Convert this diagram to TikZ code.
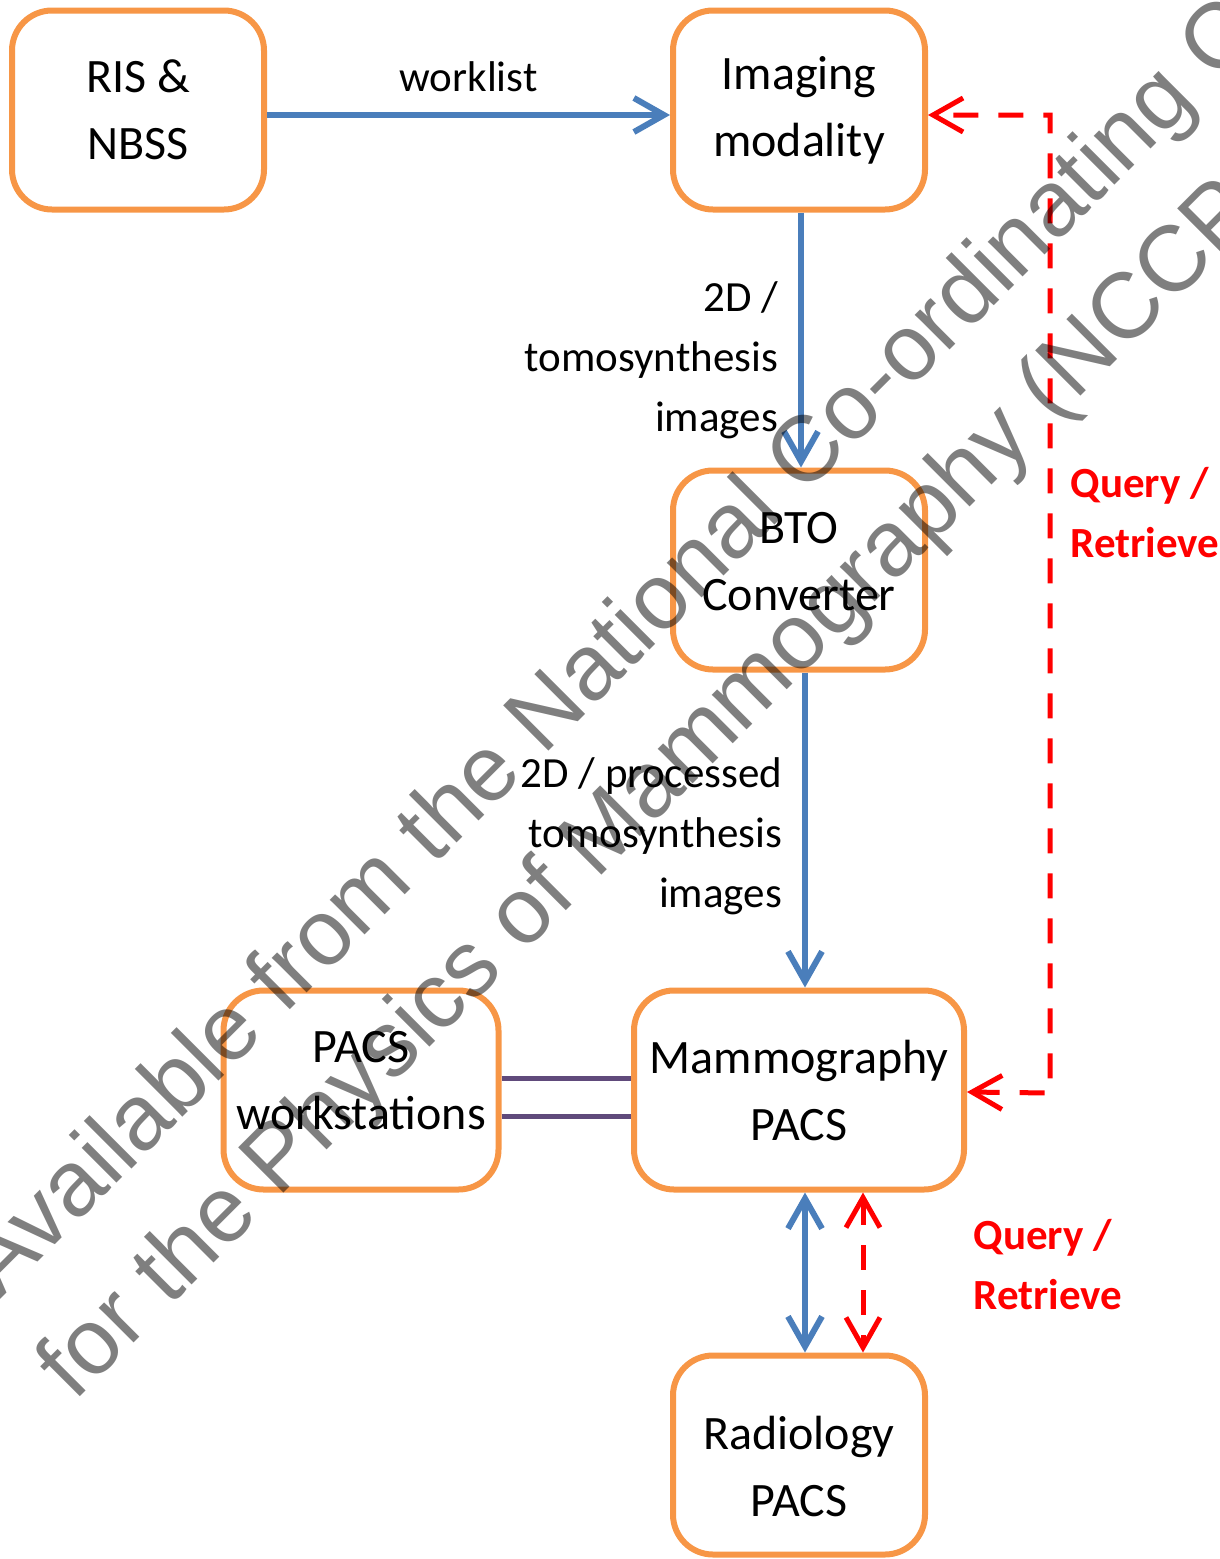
\documentclass[tikz,border=0pt]{standalone}
\usepackage{fontspec}
\setmainfont{Carlito}
\newfontfamily\stampfont{Liberation Sans}
\usetikzlibrary{arrows.meta}
\definecolor{boxorange}{RGB}{247,150,70}
\definecolor{flowblue}{RGB}{74,126,187}
\definecolor{linkpurple}{RGB}{96,74,123}
\definecolor{qrred}{RGB}{255,0,0}

\tikzset{
  barb/.tip={Straight Barb[length=15pt,width=17pt]},
  box/.style={draw=boxorange, line width=3pt, rounded corners=20pt, fill=white,
    minimum width=126pt, minimum height=99.5pt, align=center,
    font=\fontsize{24}{33.5}\selectfont},
  flow/.style={draw=flowblue, line width=3pt},
  qr/.style={draw=qrred, line width=2.5pt, dash pattern=on 12.5pt off 10pt},
  flowtext/.style={align=right, inner sep=0pt, font=\fontsize{21.5}{30}\selectfont},
  qrtext/.style={align=left, inner sep=0pt, text=qrred, font=\bfseries\fontsize{21.5}{30}\selectfont},
  stamp/.style={rotate=45, inner sep=0pt, text=black, text opacity=0.5,
    font=\stampfont\fontsize{46.5}{50}\selectfont}
}

\begin{document}
\begin{tikzpicture}[x=0.5pt,y=-0.5pt]
\useasboundingbox (0,0) rectangle (1220,1559);

\node[box] (ris) at (138,110) {RIS \&\\NBSS};
\node[box,right of=ris,node distance=330.5pt] (modality) {Imaging\\modality};
\node[box,below of=modality,node distance=230pt,text depth=9pt] (bto) {BTO\\Converter};
\node[box,below of=bto,node distance=260pt,minimum width=165pt] (mpacs) {Mammography\\PACS};
\node[box,left of=mpacs,node distance=219pt,minimum width=137.5pt,text depth=10pt] (ws) {PACS\\workstations};
\node[box,below of=mpacs,node distance=182.5pt,text height=62pt] (rpacs) {Radiology\\PACS};
\coordinate (qrline) at (1050,1093);

\draw[flow,-barb] ([yshift=-2.5pt]ris.east) to node[above=10pt,inner sep=0pt,font=\fontsize{21.5}{30}\selectfont] {worklist} ([yshift=-2.5pt]modality.west);
\draw[flow,-barb] ([xshift=1pt]modality.south) to node[flowtext,left=10pt,pos=0.58] {2D /\\tomosynthesis\\images} ([xshift=1pt]bto.north);
\draw[flow,-barb] ([xshift=3pt]bto.south) to node[flowtext,left=10pt,pos=0.52] {2D / processed\\tomosynthesis\\images} ([xshift=3pt]mpacs.north);
\draw[flow,barb-barb] ([xshift=3pt]mpacs.south) -- ([xshift=3pt]rpacs.north);

\draw[qr,barb-barb] ([yshift=-1pt]mpacs.east) -- (qrline)
  -- node[qrtext,right=9pt,pos=0.593] {Query /\\Retrieve} (qrline |- 0,115) -- ([yshift=-2.5pt]modality.east);
\draw[qr,barb-barb] ([xshift=32pt]mpacs.south) to node[qrtext,right=54pt,pos=0.45] {Query /\\Retrieve} ([xshift=32pt]rpacs.north);

\draw[draw=linkpurple,line width=2.5pt] ([yshift=6pt]ws.east) -- ([yshift=6pt]ws.east -| mpacs.west);
\draw[draw=linkpurple,line width=2.5pt] ([yshift=-13pt]ws.east) -- ([yshift=-13pt]ws.east -| mpacs.west);

\begin{scope}
\clip (0,0) rectangle (1220,1559);
\node[stamp,anchor=base west] (stamp1) at (0,1300) {Available from the National Co-ordinating Centre};
\node[stamp,anchor=base west] (stamp2) at (74,1403) {for the Physics of Mammography (NCCPM)};
\end{scope}
\end{tikzpicture}
\end{document}
